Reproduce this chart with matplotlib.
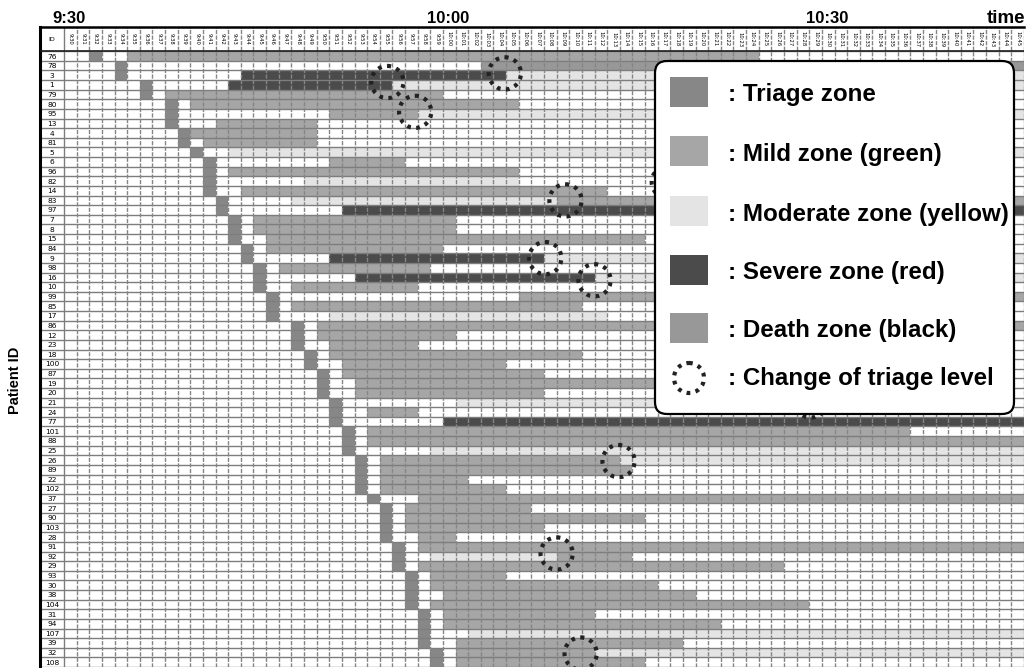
import matplotlib
matplotlib.use('Agg')
import matplotlib.pyplot as plt
from matplotlib.patches import FancyBboxPatch, Ellipse, Rectangle

### Data ###

patient_ids = [76, 78, 3, 1, 79, 80, 95, 13, 4, 81, 5, 6, 96, 82, 14, 83, 97, 7, 8, 15,
               84, 9, 98, 16, 10, 99, 85, 17, 86, 12, 23, 18, 100, 87, 19, 20, 21, 24, 77, 101,
               88, 25, 26, 89, 22, 102, 37, 27, 90, 103, 28, 91, 92, 29, 93, 30, 38, 104, 31, 94,
               107, 39, 32, 108]

# minute (counted from 9:30) of each patient's triage cell
triage_minute = [2, 4, 4, 6, 6, 8, 8, 8, 9, 9, 10, 11, 11, 11, 11, 12, 12, 13, 13, 13,
                 14, 14, 15, 15, 15, 16, 16, 16, 18, 18, 18, 19, 19, 20, 20, 20, 21, 21, 21, 22,
                 22, 22, 23, 23, 23, 23, 24, 25, 25, 25, 25, 26, 26, 26, 27, 27, 27, 27, 28, 28,
                 28, 28, 29, 29]

# (patient id, first minute, last minute)
mild_spans = [(76, 5, 54), (79, 8, 29), (80, 10, 35), (95, 21, 27), (13, 12, 19), (4, 10, 19),
              (81, 11, 19), (6, 21, 26), (96, 13, 35), (14, 14, 42), (83, 39, 75), (7, 15, 30),
              (8, 15, 30), (15, 16, 45), (84, 16, 29), (98, 17, 28), (10, 18, 27), (99, 36, 75),
              (85, 18, 40), (86, 20, 75), (12, 20, 30), (23, 21, 27), (18, 21, 40),
              (100, 22, 34), (87, 22, 37), (19, 23, 60), (20, 23, 37), (24, 24, 27), (101, 24, 66),
              (88, 24, 75), (26, 25, 43), (89, 25, 44), (22, 25, 31), (102, 25, 34), (37, 28, 75),
              (27, 27, 36), (90, 27, 45), (103, 27, 37), (28, 28, 30), (91, 28, 75), (92, 39, 44),
              (29, 28, 56), (93, 29, 34), (30, 29, 46), (38, 30, 49), (104, 29, 58), (31, 30, 41),
              (94, 30, 51), (39, 31, 48), (32, 31, 41), (108, 31, 45)]

moderate_spans = [(3, 35, 75), (1, 26, 75), (95, 28, 75), (5, 13, 75), (82, 19, 35), (83, 18, 38),
                  (9, 38, 75), (16, 42, 75), (17, 21, 42), (21, 31, 55), (25, 29, 75), (26, 44, 75),
                  (92, 29, 38), (107, 32, 75), (32, 42, 75)]

severe_spans = [(3, 14, 34), (1, 13, 25), (97, 22, 75), (9, 21, 37), (16, 23, 41), (77, 30, 75)]

death_spans = [(78, 33, 75)]

# dotted circles: (minute position, row position)
change_marks = [(25.6, 2.7), (34.9, 1.8), (27.8, 5.8), (39.7, 15.0), (38.1, 21.0),
                (42.0, 23.3), (43.9, 42.1), (39.0, 51.7), (40.9, 62.1), (47.8, 13.1), (59.1, 35.9)]

minute_labels = ['%d:%02d' % (9 + (30 + i) // 60, (30 + i) % 60) for i in range(76)]

zone_colors = {
    'Triage zone': '#878787',
    'Mild zone (green)': '#a6a6a6',
    'Moderate zone (yellow)': '#e4e4e4',
    'Severe zone (red)': '#4b4b4b',
    'Death zone (black)': '#989898',
}

plt.rcParams['font.family'] = ['Liberation Sans', 'DejaVu Sans']

fig = plt.figure(figsize=(10.27, 6.68), dpi=100)
ax = fig.add_axes([40 / 1027, 1 - 667 / 668, 984 / 1027, 640 / 668])
ax.set_xlim(-1.9, 76)
ax.set_ylim(63.5, -3.02)

rows = list(range(len(patient_ids)))

# Triage cells
ax.barh(rows, [1] * len(rows), left=triage_minute, height=1.0,
        color=zone_colors['Triage zone'], linewidth=0, align='center', zorder=1)


def draw_spans(spans, color):
    idx = [patient_ids.index(p) for p, s, e in spans]
    ax.barh(idx, [e - s + 1 for p, s, e in spans], left=[s for p, s, e in spans],
            height=1.0, color=color, linewidth=0, zorder=1)


draw_spans(mild_spans, zone_colors['Mild zone (green)'])
draw_spans(moderate_spans, zone_colors['Moderate zone (yellow)'])
draw_spans(severe_spans, zone_colors['Severe zone (red)'])
draw_spans(death_spans, zone_colors['Death zone (black)'])

# Grid
for r in range(-1, len(rows)):
    ax.axhline(r + 0.5, color='#7d7d7d', linewidth=1.0, zorder=2)
for c in range(1, 77):
    ax.axvline(c, color='#858585', linewidth=1.0, linestyle=(0, (3, 1)), zorder=2)
ax.axvline(0, color='#7d7d7d', linewidth=1.0, zorder=2)
ax.axhline(-0.5, color='#202020', linewidth=1.2, zorder=3)

# Header and ID column
for i, lab in enumerate(minute_labels):
    ax.text(i + 0.5, -1.76, lab, rotation=-90, fontsize=3.8, ha='center', va='center',
            family='DejaVu Sans')
ax.text(-0.95, -1.76, 'ID', fontsize=4.5, ha='center', va='center', family='DejaVu Sans')
for r, pid in enumerate(patient_ids):
    ax.text(-0.95, r + 0.05, str(pid), fontsize=5.4, ha='center', va='center',
            family='DejaVu Sans')

ax.set_xticks([])
ax.set_yticks([])
for side in ['right', 'bottom']:
    ax.spines[side].set_visible(False)
ax.spines['left'].set_linewidth(2.2)
ax.spines['top'].set_linewidth(1.8)

# Change of triage level marks
for cx, cy in change_marks:
    ax.add_patch(Ellipse((cx, cy), 2.55, 3.35, fill=False, edgecolor='#222222',
                         linewidth=3, linestyle=(0, (0.9, 1.3)), zorder=4))

# Time labels above the table
for m, lab in [(0, '9:30'), (30, '10:00'), (60, '10:30')]:
    ax.text(m + 0.4, -3.95, lab, fontsize=12, fontweight='bold', ha='center', va='center',
            clip_on=False)
ax.text(74.6, -3.95, 'time', fontsize=13.5, fontweight='bold', ha='center', va='center',
        clip_on=False)

fig.text(15 / 1027, 1 - 380 / 668, 'Patient ID', rotation=90, fontsize=10.5,
         fontweight='bold', ha='center', va='center')

# Legend panel
lg = fig.add_axes([0, 0, 1, 1], zorder=5)
lg.set_xlim(0, 1027)
lg.set_ylim(668, 0)
lg.axis('off')
lg.add_patch(FancyBboxPatch((655, 61), 359, 353, boxstyle='round,pad=0,rounding_size=12',
                            facecolor='white', edgecolor='black', linewidth=1.6))
entry_y = [92, 151, 211, 270, 328]
for y, (name, col) in zip(entry_y, zone_colors.items()):
    lg.add_patch(Rectangle((670, y - 15), 38, 30, facecolor=col, edgecolor='none'))
    lg.text(728, y + 3, ': ' + name, fontsize=17.4, fontweight='bold', ha='left', va='center')
lg.add_patch(Ellipse((689, 378), 30, 30, fill=False, edgecolor='#222222', linewidth=3,
                     linestyle=(0, (0.9, 1.3))))
lg.text(728, 378, ': Change of triage level', fontsize=17.4, fontweight='bold',
        ha='left', va='center')

fig.savefig('out.png', dpi=100)
